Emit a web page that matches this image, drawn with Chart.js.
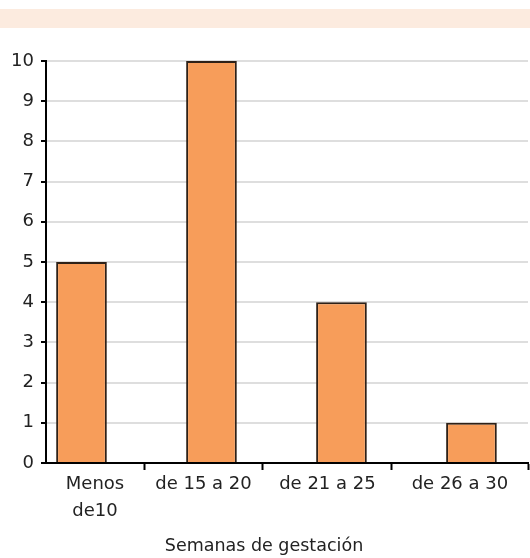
<!DOCTYPE html>
<html>
<head>
<meta charset="utf-8">
<script src="https://cdn.jsdelivr.net/npm/chart.js@4/dist/chart.umd.min.js"></script>
<style>
  body { margin: 0; background: #fff; }
  #band { position: absolute; left: 0; top: 9px; width: 530px; height: 19px; background: #fcebdf; }
  #c { position: absolute; left: 0; top: 0; }
</style>
</head>
<body>
<div id="band"></div>
<canvas id="c" width="530" height="558"></canvas>
<script>
categories = [['Menos', 'de10'], 'de 15 a 20', 'de 21 a 25', 'de 26 a 30'];
cases = [5, 10, 4, 1];
yMin = 0;
yMax = 10;
yStep = 1;
xTitle = 'Semanas de gestación';

// the original axis is a bit uneven: bars sit on 0..3, group separators are not midway
xMin = -0.273;
xMax = 3.435;
separators = [0.481, 1.396, 2.388, 3.435];
labelPos = [xMin, ...separators.slice(0, -1)].map((v, i) => (v + separators[i]) / 2);

font = { family: 'DejaVu Sans', size: 18 };

isSep = v => separators.some(s => Math.abs(s - v) < 1e-6);

new Chart(document.getElementById('c'), {
  type: 'bar',
  data: {
    datasets: [{
      data: cases.map((v, i) => ({ x: i, y: v })),
      backgroundColor: '#f79d5a',
      borderColor: '#2e2118',
      borderWidth: 2,
      barPercentage: 0.39,
      categoryPercentage: 1,
      xAxisID: 'x',
      yAxisID: 'y'
    }]
  },
  options: {
    responsive: false,
    animation: false,
    devicePixelRatio: 1,
    layout: { padding: { top: 61, right: 2, left: 0, bottom: 0 } },
    plugins: {
      legend: { display: false },
      tooltip: { enabled: false },
      title: {
        display: true,
        position: 'bottom',
        text: xTitle,
        color: '#222',
        font: { family: 'DejaVu Sans', size: 17.5, weight: 'normal' },
        padding: { top: 15, bottom: 1 }
      }
    },
    scales: {
      x: {
        type: 'linear',
        display: false,
        offset: false,
        min: xMin,
        max: xMax,
        afterBuildTicks: s => { s.ticks = cases.map((_, i) => ({ value: i })); }
      },
      xa: {
        type: 'linear',
        position: 'bottom',
        offset: false,
        min: xMin,
        max: xMax,
        afterBuildTicks: s => {
          s.ticks = [...labelPos, ...separators].sort((a, b) => a - b).map(v => ({ value: v }));
        },
        afterFit: s => { s.height = 58; },
        ticks: {
          autoSkip: false,
          maxRotation: 0,
          padding: 1,
          color: '#222',
          font: { ...font, lineHeight: 1.5 },
          callback: v => {
            const k = labelPos.findIndex(p => Math.abs(p - v) < 1e-6);
            return k >= 0 ? categories[k] : '';
          }
        },
        grid: {
          offset: false,
          drawOnChartArea: false,
          tickLength: 7,
          tickWidth: 2,
          tickColor: ctx => (ctx.tick && isSep(ctx.tick.value)) ? '#000' : 'rgba(0,0,0,0)'
        },
        border: { color: '#000', width: 2 }
      },
      y: {
        min: yMin,
        max: yMax,
        afterFit: s => { s.width = 46; },
        ticks: { stepSize: yStep, color: '#222', font: font, padding: 7 },
        grid: { color: '#dedede', lineWidth: 2, tickColor: '#000', tickLength: 5, tickWidth: 2 },
        border: { color: '#000', width: 2 }
      }
    }
  }
});
</script>
</body>
</html>
